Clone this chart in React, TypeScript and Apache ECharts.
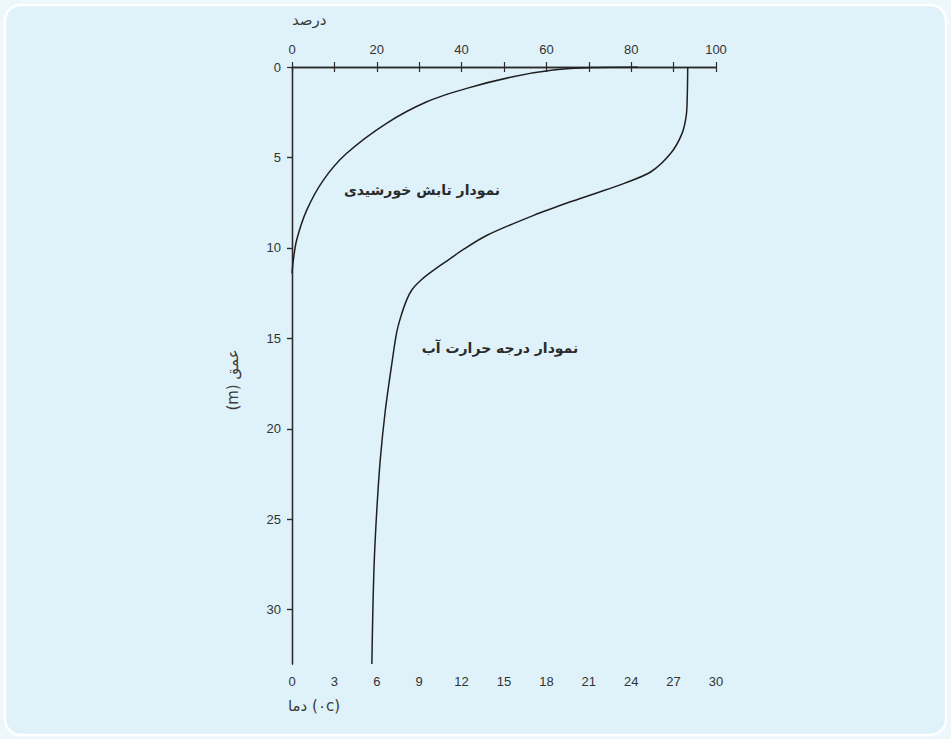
import React, { useEffect, useRef } from "react";
import * as echarts from "echarts";

// Depth axis (m)
const depthTicks = [0, 5, 10, 15, 20, 25, 30];
const depthMax = 33;
// Top axis: percent of solar radiation
const percentTicks = [0, 10, 20, 30, 40, 50, 60, 70, 80, 90, 100];
const percentLabels = [0, 20, 40, 60, 80, 100];
// Bottom axis: temperature (°C)
const tempTicks = [0, 3, 6, 9, 12, 15, 18, 21, 24, 27, 30];

// Solar radiation curve: [percent, depth]
const solarPercent = [81.6, 71, 61.6, 52.1, 41.2, 31.8, 22.3, 12.9, 7.4, 3.5, 1.1, 0.3, 0];
const solarDepth = [0, 0.03, 0.17, 0.54, 1.18, 1.92, 3.11, 4.77, 6.25, 7.9, 9.56, 10.7, 11.4];

// Water temperature curve: [temperature, depth]
const waterTemp = [28.0, 27.97, 27.9, 27.6, 26.8, 25.4, 23.5, 21.5, 19.7, 17.1, 13.8, 12.1, 11.0, 9.9, 9.1, 8.5, 8.1, 7.7, 7.4, 7.1, 6.6, 6.24, 6.0, 5.82, 5.72, 5.65];
const waterDepth = [0, 1.5, 2.65, 3.67, 4.77, 5.79, 6.43, 6.98, 7.45, 8.2, 9.3, 10.1, 10.7, 11.3, 11.8, 12.3, 12.9, 13.8, 14.7, 16.2, 19.0, 21.75, 24.5, 27.3, 30.05, 33];

const solarLabel = "نمودار تابش خورشیدی";
const waterLabel = "نمودار درجه حرارت آب";
const topAxisName = "درصد";
const bottomAxisName = "دما \u200E(٠c)";
const leftAxisName = "(m) عمق";

const AXIS_COLOR = "#2b2b2b";
const LABEL_COLOR = "#333333";
const LABEL_FONT = "Liberation Sans";
const FA_FONT = "DejaVu Sans";

export default function App() {
  const ref = useRef<HTMLDivElement>(null);
  useEffect(() => {
    if (!ref.current) return;
    const chart = echarts.init(ref.current, null, { renderer: "svg" });
    const axisLine = { show: true, lineStyle: { color: AXIS_COLOR, width: 1.3 } };
    const axisLabelBase = { color: LABEL_COLOR, fontFamily: LABEL_FONT, fontSize: 13, margin: 11 };
    chart.setOption({
      animation: false,
      backgroundColor: "transparent",
      grid: { left: 292, right: 235, top: 67, bottom: 75, containLabel: false },
      graphic: [
        {
          type: "rect",
          z: -100,
          shape: { x: 5, y: 5, width: 941, height: 730, r: 16 },
          style: { fill: "#dff2fa", stroke: "#ffffff", lineWidth: 2.5 },
        },
        {
          type: "text",
          left: 292,
          top: 12,
          style: { text: topAxisName, fill: "#3a3a3a", font: `15px '${FA_FONT}'` },
        },
        {
          type: "text",
          left: 288,
          top: 698,
          style: { text: bottomAxisName, fill: "#3a3a3a", font: `15px '${FA_FONT}'` },
        },
        {
          type: "text",
          x: 233,
          y: 380,
          rotation: Math.PI / 2,
          style: {
            text: leftAxisName,
            fill: "#3a3a3a",
            font: `15px '${FA_FONT}'`,
            align: "center",
            verticalAlign: "middle",
          },
        },
        {
          type: "text",
          x: 422,
          y: 190,
          style: {
            text: solarLabel,
            fill: "#2b2b2b",
            font: `bold 14px '${FA_FONT}'`,
            align: "center",
            verticalAlign: "middle",
          },
        },
        {
          type: "text",
          x: 500,
          y: 348,
          style: {
            text: waterLabel,
            fill: "#2b2b2b",
            font: `bold 14px '${FA_FONT}'`,
            align: "center",
            verticalAlign: "middle",
          },
        },
      ],
      xAxis: [
        {
          type: "value",
          position: "top",
          min: 0,
          max: 100,
          interval: 10,
          axisLine,
          splitLine: { show: false },
          axisTick: { show: true, inside: false, length: 5, lineStyle: { color: AXIS_COLOR, width: 1.2 }, customValues: percentTicks },
          axisLabel: { ...axisLabelBase, customValues: percentLabels },
        },
        {
          type: "value",
          position: "bottom",
          min: 0,
          max: 30,
          interval: 3,
          axisLine,
          splitLine: { show: false },
          axisTick: { show: true, inside: false, length: 5, lineStyle: { color: AXIS_COLOR, width: 1.2 }, customValues: tempTicks },
          axisLabel: { ...axisLabelBase, customValues: tempTicks },
        },
      ],
      yAxis: [
        {
          type: "value",
          position: "left",
          inverse: true,
          min: 0,
          max: depthMax,
          interval: 5,
          axisLine,
          splitLine: { show: false },
          axisTick: { show: true, inside: false, length: 5, lineStyle: { color: AXIS_COLOR, width: 1.2 }, customValues: depthTicks },
          axisLabel: { ...axisLabelBase, customValues: depthTicks },
        },
        {
          type: "value",
          position: "right",
          inverse: true,
          min: 0,
          max: depthMax,
          interval: 5,
          axisLine,
          splitLine: { show: false },
          axisTick: { show: true, inside: true, length: 5, lineStyle: { color: AXIS_COLOR, width: 1.2 }, customValues: depthTicks.slice(1) },
          axisLabel: { show: false },
        },
      ],
      series: [
        {
          type: "line",
          name: solarLabel,
          xAxisIndex: 0,
          yAxisIndex: 0,
          data: solarPercent.map((p, i) => [p, solarDepth[i]]),
          showSymbol: false,
          smooth: 0.3,
          lineStyle: { color: "#1f1f1f", width: 1.5 },
        },
        {
          type: "line",
          name: waterLabel,
          xAxisIndex: 1,
          yAxisIndex: 0,
          data: waterTemp.map((t, i) => [t, waterDepth[i]]),
          showSymbol: false,
          smooth: 0.3,
          lineStyle: { color: "#1f1f1f", width: 1.5 },
        },
      ],
    });
    return () => chart.dispose();
  }, []);
  return (
    <div style={{ position: "fixed", left: 0, top: 0, width: 951, height: 739, background: "#eef8fc" }}>
      <div ref={ref} style={{ width: 951, height: 739 }} />
    </div>
  );
}
